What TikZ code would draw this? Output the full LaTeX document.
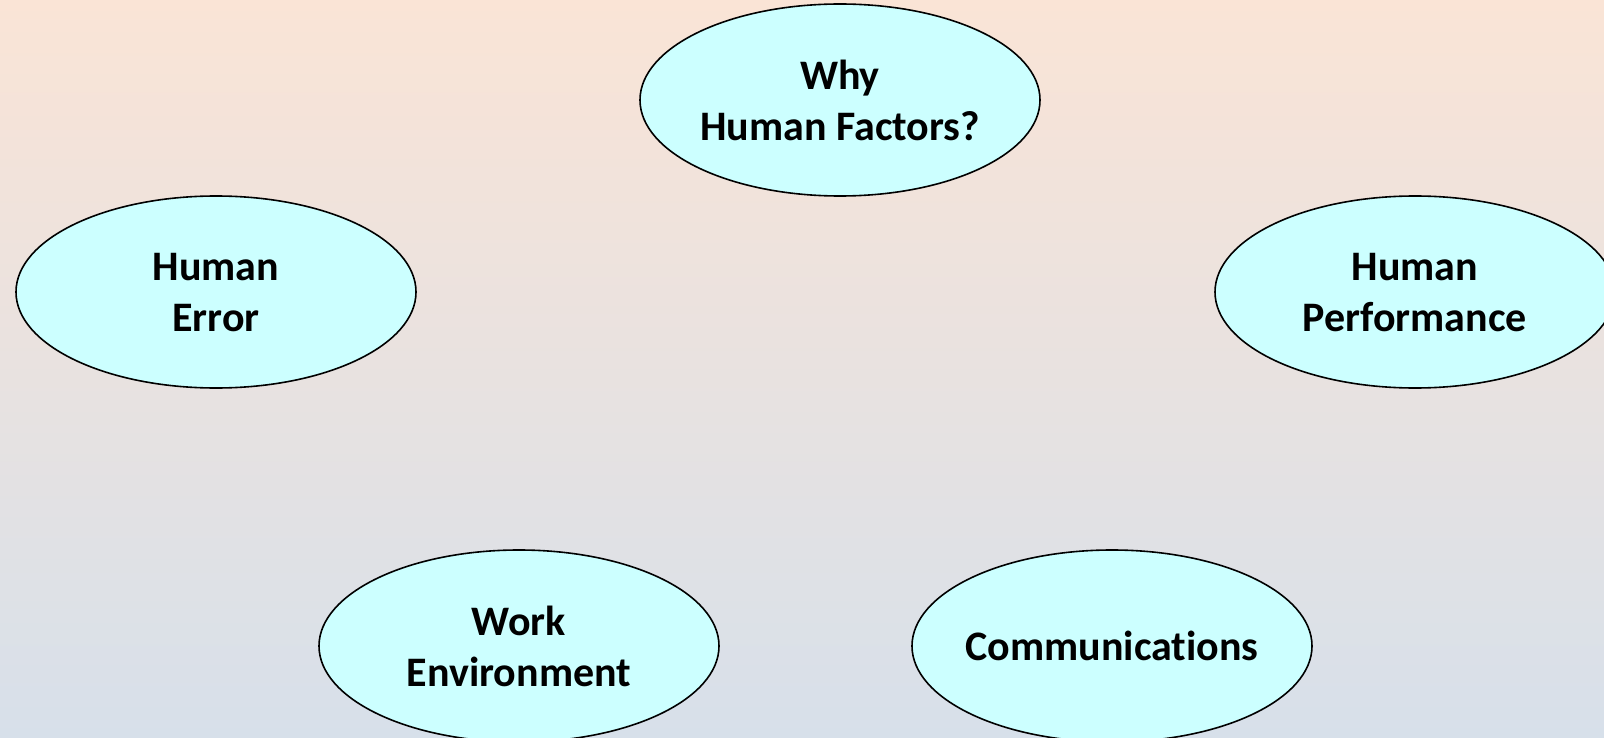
\documentclass[tikz,border=0pt]{standalone}
\usepackage{fontspec}
\setmainfont{Carlito}[Ligatures={NoCommon}]
\usepackage{tikz}
\usepackage{xcolor}
\usetikzlibrary{shapes.geometric}

\definecolor{bgtop}{HTML}{FAE4D6}
\definecolor{bgbottom}{HTML}{D7E0EA}
\definecolor{topicfill}{HTML}{CCFFFF}

\begin{document}
\begin{tikzpicture}[x=1pt,y=-1pt,
	topic/.style={ellipse,draw=black,line width=1.6pt,fill=topicfill,
		minimum width=400pt,minimum height=192pt,inner sep=0pt,text depth=0pt,
		align=center,font=\fontsize{42}{51}\selectfont\bfseries}]
	\clip (0,0) rectangle (1604,738);
	\shade[top color=bgtop,bottom color=bgbottom] (0,0) rectangle (1604,738);

	\node[topic] (why) at (840,100) {Why\\Human Factors?};
	\node[topic] (err) at (216,292) {Human\\Error};
	\node[topic] (perf) at (1415,292) {Human\\Performance};
	\node[topic] (env) at (519,646) {Work\\Environment};
	\node[topic,inner xsep=-20pt] (comm) at (1112,646) {Communications};
\end{tikzpicture}
\end{document}
